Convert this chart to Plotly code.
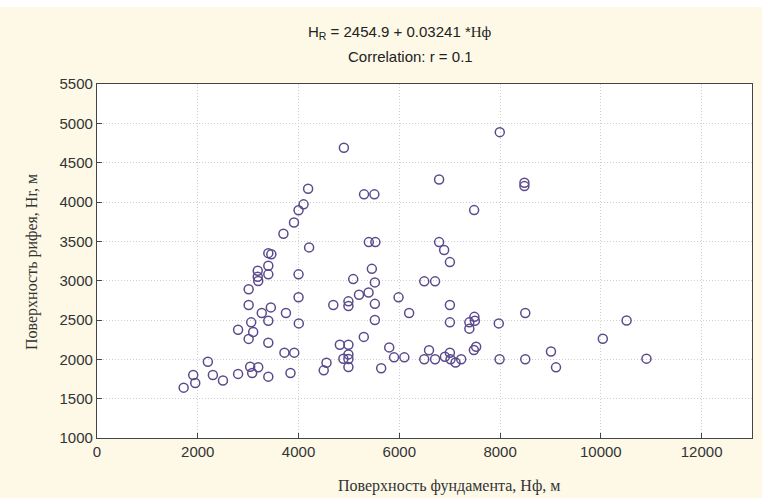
import plotly.graph_objects as go

# Data (foundation surface Hф vs riphean surface Hr, m)
h_fund = [1720, 1910, 1950, 2200, 2300, 2500, 2800, 2800, 3010, 3010,
          3010, 3040, 3060, 3080, 3100, 3200, 3190, 3190, 3200, 3270,
          3400, 3460, 3400, 3400, 3400, 3400, 3400, 3450, 3700, 3720,
          3750, 3840, 3910, 3915, 4000, 4000, 4000, 4005, 4100, 4190,
          4210, 4500, 4555, 4690, 4820, 4890, 4900, 4990, 4990, 4990,
          4990, 4990, 4990, 5085, 5200, 5295, 5300, 5390, 5395, 5455,
          5505, 5515, 5515, 5515, 5525, 5640, 5800, 5895, 5985, 6100,
          6195, 6495, 6495, 6590, 6710, 6710, 6790, 6790, 6890, 6905,
          7004, 7004, 7004, 7004, 7017, 7116, 7228, 7390, 7390, 7490,
          7500, 7485, 7480, 7525, 7974, 7994, 7990, 8483, 8483, 8500,
          8500, 9010, 9110, 10039, 10511, 10905]
h_rif = [1640, 1800, 1700, 1970, 1800, 1730, 1815, 2375, 2260, 2690,
         2890, 1905, 2470, 1826, 2347, 1900, 3125, 3050, 2995, 2590,
         3350, 3335, 3190, 3080, 2490, 2210, 1780, 2660, 3596, 2085,
         2590, 1826, 3740, 2085, 3895, 3080, 2790, 2457, 3970, 4168,
         3423, 1860, 1957, 2690, 2186, 2008, 4690, 2737, 2677, 2186,
         2063, 2004, 1902, 3020, 2821, 2285, 4097, 2850, 3490, 3150,
         4097, 2978, 2705, 2500, 3490, 1886, 2152, 2025, 2788, 2025,
         2588, 2991, 2000, 2115, 2991, 2000, 4287, 3490, 3389, 2033,
         3236, 2690, 2470, 2084, 2000, 1960, 2000, 2470, 2390, 2540,
         2490, 3897, 2118, 2160, 2457, 4888, 2000, 4244, 4202, 2590,
         2000, 2099, 1898, 2262, 2494, 2009]

x_range = [0, 13000]
y_range = [1000, 5500]
x_ticks = [0, 2000, 4000, 6000, 8000, 10000, 12000]
x_tick_labels = ["0", "2000", "4000", "6000", "8000", "10000", "12000"]
y_ticks = [1000, 1500, 2000, 2500, 3000, 3500, 4000, 4500, 5000, 5500]
y_tick_labels = ["1000", "1500", "2000", "2500", "3000", "3500", "4000", "4500", "5000", "5500"]

title_line1 = "H<sub>R</sub> = 2454.9 + 0.03241 *<span style='font-family:Liberation Serif'>Нф</span>"
title_line2 = "Correlation: r = 0.1"
x_title = "Поверхность фундамента, Нф, м"
y_title = "Поверхность рифея, Нr, м"

W, H = 762, 498
L, R, T, B = 97, 10, 84, 60
pw = W - L - R
ph = H - T - B

def px_to_paper_x(px):
    return (px - L) / pw

def px_to_paper_y(py):
    return (H - B - py) / ph

fig = go.Figure()
fig.add_trace(go.Scatter(
    x=h_fund, y=h_rif, mode="markers",
    marker=dict(symbol="circle-open", size=9, color="#5b4a8c",
                line=dict(width=1.5, color="#5b4a8c")),
    showlegend=False, hoverinfo="x+y"))

axis_common = dict(
    showline=True, mirror=True, linecolor="#444444", linewidth=1.2,
    ticks="inside", ticklen=5, tickcolor="#444444", tickwidth=1,
    showgrid=True, gridcolor="#cfcfcf", gridwidth=1, griddash="1px,2px",
    zeroline=False, automargin=False,
    tickfont=dict(family="Liberation Sans, Arial", size=15, color="#333333"),
)

fig.update_xaxes(range=x_range, tickvals=x_ticks, ticktext=x_tick_labels, **axis_common)
fig.update_yaxes(range=y_range, tickvals=y_ticks, ticktext=y_tick_labels, **axis_common)

annotations = [
    dict(text=title_line1, x=px_to_paper_x(400), y=px_to_paper_y(32),
         font=dict(family="Liberation Sans, Arial", size=15, color="#222222")),
    dict(text=title_line2, x=px_to_paper_x(410), y=px_to_paper_y(56),
         font=dict(family="Liberation Sans, Arial", size=15, color="#222222")),
    dict(text=x_title, x=px_to_paper_x(449), y=px_to_paper_y(486),
         font=dict(family="Liberation Serif, Times New Roman", size=16, color="#333333")),
    dict(text=y_title, x=px_to_paper_x(32), y=px_to_paper_y(262), textangle=-90,
         font=dict(family="Liberation Serif, Times New Roman", size=16, color="#333333")),
]
for a in annotations:
    a.update(xref="paper", yref="paper", showarrow=False,
             xanchor="center", yanchor="middle")

fig.update_layout(
    width=W, height=H,
    margin=dict(l=L, r=R, t=T, b=B, autoexpand=False),
    paper_bgcolor="#fdf9e6",
    plot_bgcolor="#ffffff",
    annotations=annotations,
    shapes=[dict(type="rect", xref="paper", yref="paper",
                 x0=px_to_paper_x(0), x1=px_to_paper_x(W),
                 y0=px_to_paper_y(7), y1=px_to_paper_y(0),
                 fillcolor="#ffffff", line=dict(width=0), layer="above")],
)

fig.write_html(
    "out.html",
    config={"displayModeBar": False},
    post_script="document.body.style.margin='0';document.body.style.overflow='hidden';",
)
